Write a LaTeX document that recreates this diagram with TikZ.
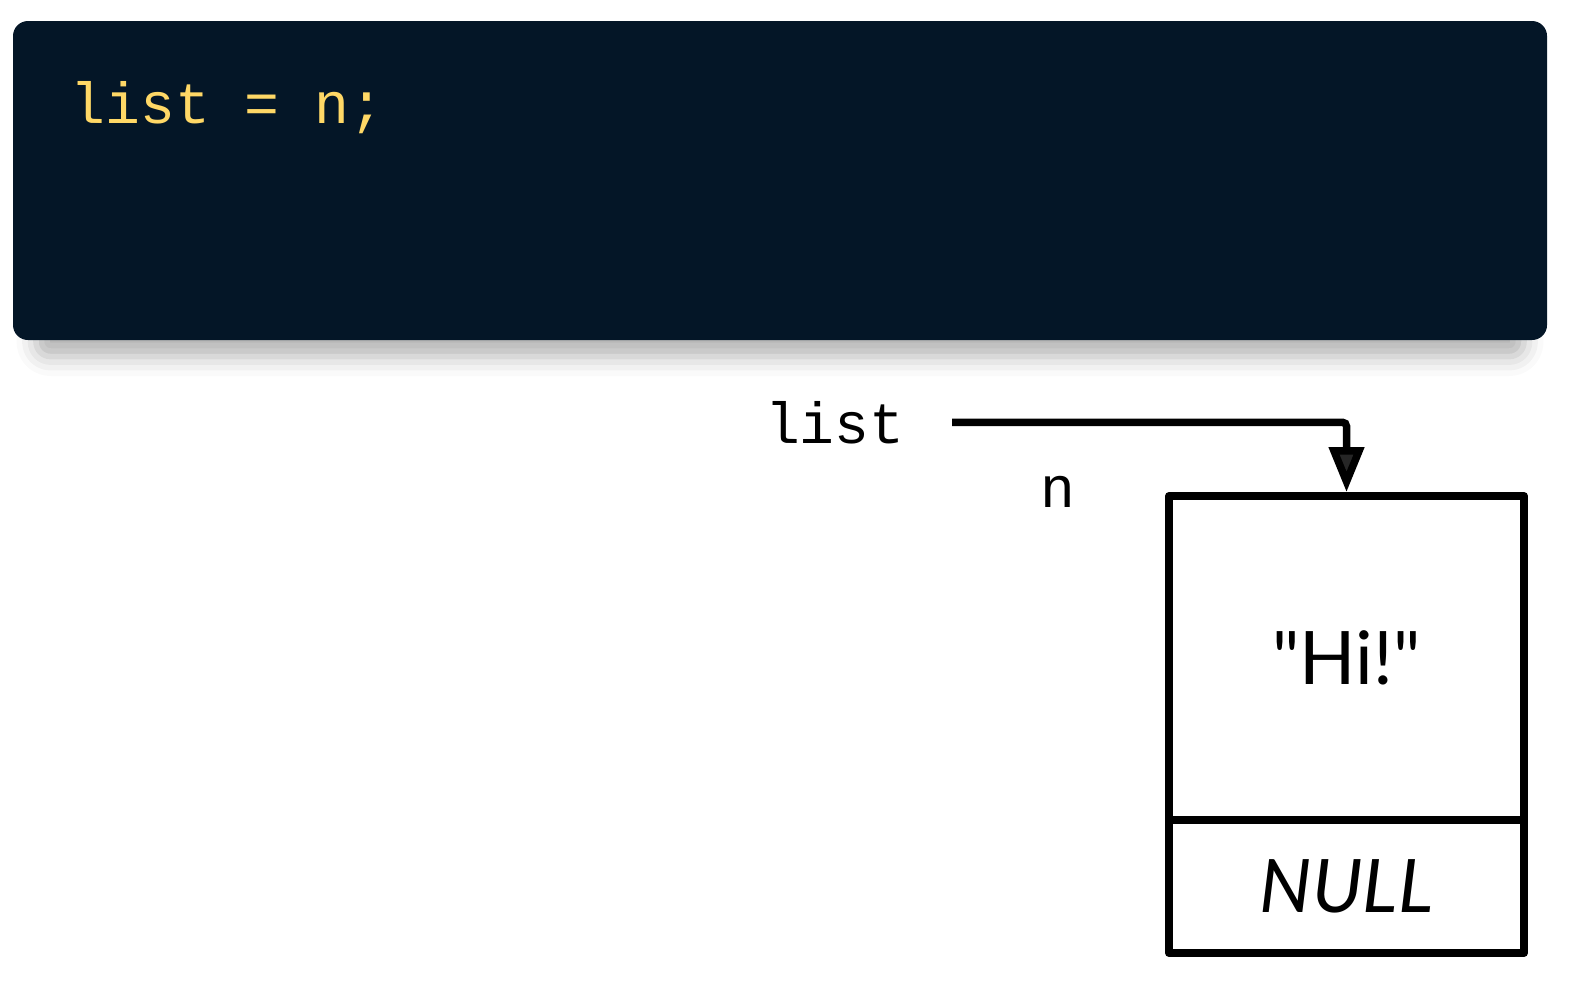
\documentclass[tikz,border=0pt]{standalone}
\usepackage{fontspec}
\setmonofont{Liberation Mono}
\newfontfamily\cellfont{Lato}
\usetikzlibrary{positioning,arrows.meta,shadows.blur}

\definecolor{codebg}{HTML}{041627}
\definecolor{codefg}{HTML}{FFD866}

\tikzset{
  codetext/.style={font=\ttfamily\fontsize{16.5}{18}\selectfont, inner sep=0pt},
  cell/.style={draw, line width=0.075cm, line join=round, minimum width=3.55cm, inner sep=0pt,
    font=\cellfont\fontsize{21}{24}\selectfont},
  pointer/.style={line width=0.075cm, rounded corners=0.04cm,
    -{Triangle[length=0.45cm,width=0.34cm]}}
}

\begin{document}
\begin{tikzpicture}[x=0.01cm, y=-0.01cm]
\useasboundingbox (0,0) rectangle (1592,996);

% Code panel
\fill [codebg, rounded corners=0.15cm,
  blur shadow={shadow xshift=0cm, shadow yshift=-0.22cm, shadow scale=0.97,
    shadow blur radius=0.2cm, shadow opacity=30}]
  (13,21) rectangle (1547,340);
\node [codetext, text=codefg, anchor=base west] (code) at (70,123) {list = n;};

% Node in memory
\node [cell, minimum height=3.24cm] (hi) at (1346.5,658) {"Hi!"};
\node [cell, minimum height=1.33cm, font=\cellfont\itshape\fontsize{21}{24}\selectfont,
  below=-0.075cm of hi] (next) {NULL};

% Pointers
\node [codetext, anchor=base east] (list) at (905,443) {list};
\node [codetext, anchor=base west] (n) at (1040,507) {n};
\coordinate [right=0.47cm of list.east] (start);
\draw [pointer] (start) -| (hi.north);
\end{tikzpicture}
\end{document}
